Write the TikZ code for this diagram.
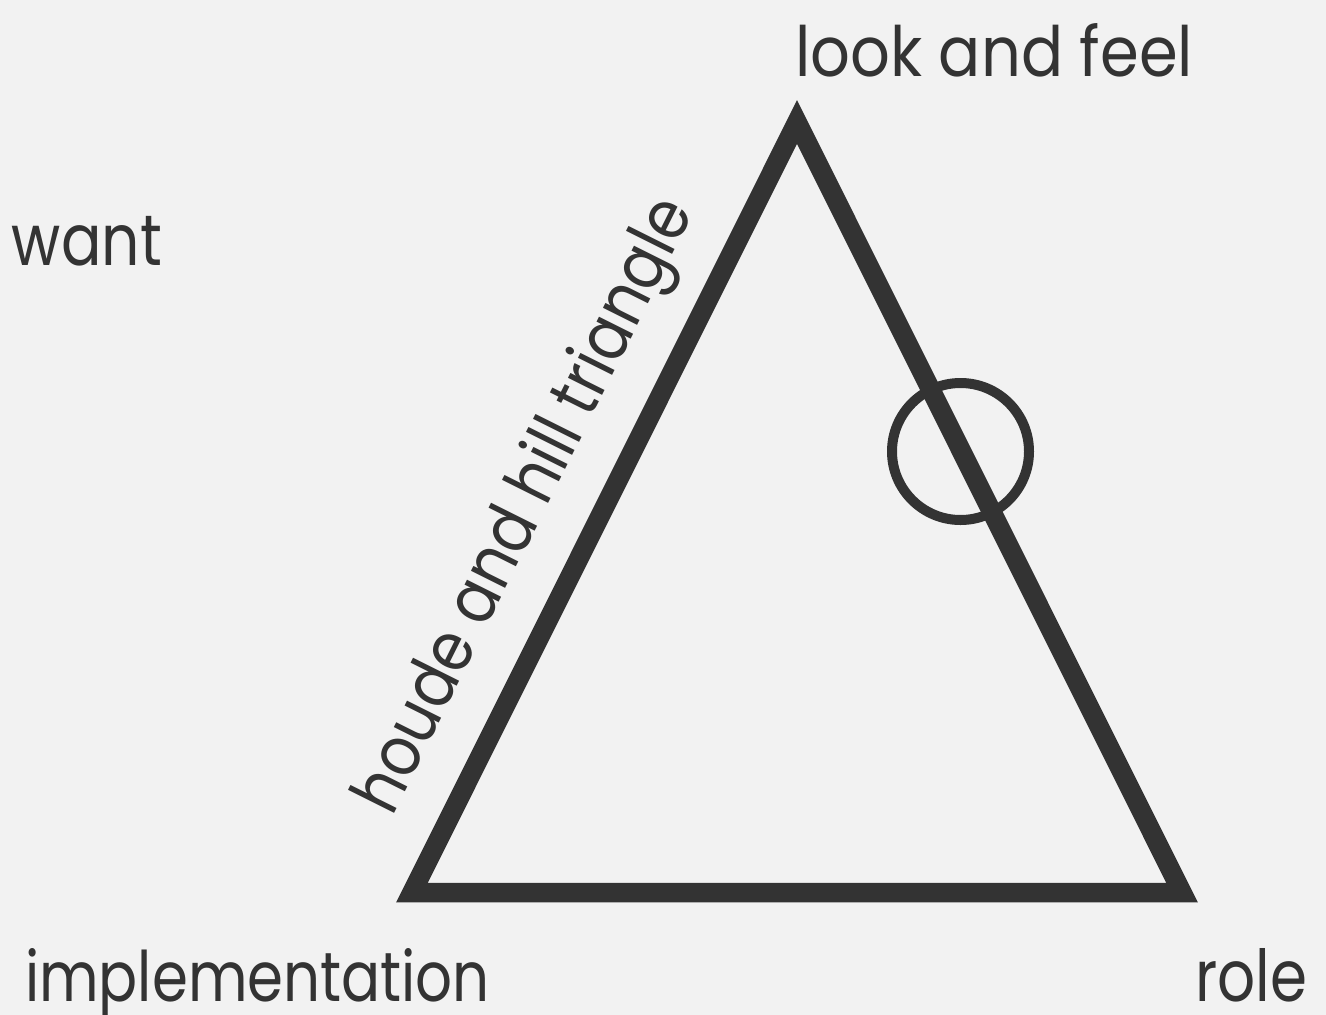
\documentclass[tikz,border=0pt]{standalone}
\usepackage{fontspec}
\setmainfont{Poppins}
\usetikzlibrary{calc}
\definecolor{bg}{HTML}{F2F2F2}
\definecolor{ink}{HTML}{333333}
\newcommand{\fitlabel}[2]{\resizebox{#1}{53pt}{\vphantom{l}#2}}
\begin{document}
\begin{tikzpicture}[x=1pt,y=-1pt,
  lbl/.style={inner sep=0pt, outer sep=0pt, text=ink, anchor=base west},
  edge/.style={draw=ink, line width=19.5pt},
  ring/.style={draw=ink, line width=10pt}]
\fill[bg] (0,0) rectangle (1326,1015);
\useasboundingbox (0,0) rectangle (1326,1015);
\coordinate (T) at (797,122);
\coordinate (L) at (412,892.5);
\coordinate (R) at (1182,892.5);
\draw[edge] (T) -- (L) -- (R) -- cycle;
\coordinate (C) at (960.5,451.5);
\draw[ring] (C) circle[radius=68.5];
\node[lbl] (lf) at (795,76) {\fitlabel{398pt}{look and feel}};
\node[lbl] (wa) at (12,265) {\fitlabel{150pt}{want}};
\node[lbl] (im) at (25,1001) {\fitlabel{465pt}{implementation}};
\node[lbl] (ro) at (1195,1001) {\fitlabel{112pt}{role}};
\node[lbl, rotate=63.45] (hh) at (392,817) {\fitlabel{676pt}{houde and hill triangle}};
\end{tikzpicture}
\end{document}
